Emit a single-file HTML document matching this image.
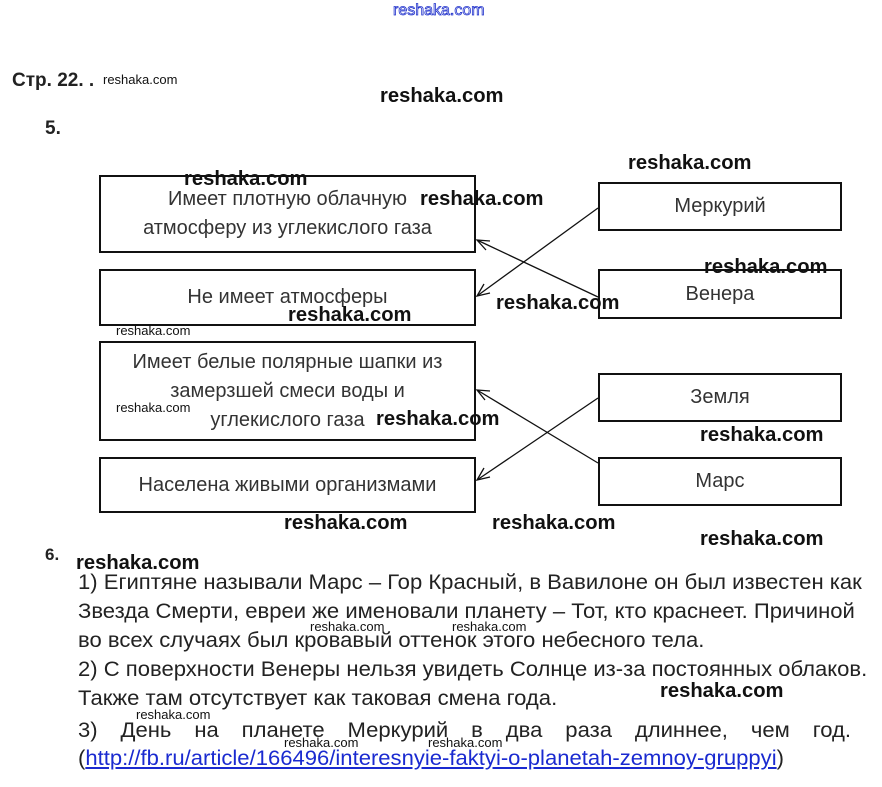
<!DOCTYPE html>
<html><head><meta charset="utf-8"><style>
body{margin:0;width:882px;height:787px;background:#fff;position:relative;overflow:hidden;font-family:"Liberation Sans",Arial,sans-serif;color:#222}
.a{position:absolute;white-space:nowrap}
.w{position:absolute;white-space:nowrap;font-weight:bold;font-size:20px;color:#111;line-height:20px;transform:scaleX(1.01);transform-origin:left}
.s{position:absolute;white-space:nowrap;font-size:13px;color:#111;line-height:14px}
.box{position:absolute;border:2px solid #111;box-sizing:border-box;display:flex;align-items:center;justify-content:center;text-align:center;font-size:20px;color:#333;line-height:29px}
.t{position:absolute;left:78px;white-space:nowrap;font-size:21px;color:#222;transform:scaleX(1.05);transform-origin:left;line-height:24px}
</style></head><body>
<div class="a" style="left:393px;top:2px;font-size:16px;color:#fff;-webkit-text-stroke:0.8px #2233cc">reshaka.com</div>
<div class="a" style="left:12px;top:70px;font-size:19px;font-weight:bold;color:#222">Стр. 22. .</div>
<div class="s" style="left:103px;top:73px">reshaka.com</div>
<div class="w" style="left:380px;top:86px">reshaka.com</div>
<div class="a" style="left:45px;top:118px;font-size:19px;font-weight:bold">5.</div>

<div class="box" style="left:99px;top:175px;width:377px;height:78px">Имеет плотную облачную<br>атмосферу из углекислого газа</div>
<div class="box" style="left:99px;top:269px;width:377px;height:57px">Не имеет атмосферы</div>
<div class="box" style="left:99px;top:341px;width:377px;height:100px">Имеет белые полярные шапки из<br>замерзшей смеси воды и<br>углекислого газа</div>
<div class="box" style="left:99px;top:457px;width:377px;height:56px">Населена живыми организмами</div>
<div class="box" style="left:598px;top:182px;width:244px;height:49px">Меркурий</div>
<div class="box" style="left:598px;top:269px;width:244px;height:50px">Венера</div>
<div class="box" style="left:598px;top:373px;width:244px;height:49px">Земля</div>
<div class="box" style="left:598px;top:457px;width:244px;height:49px">Марс</div>

<svg style="position:absolute;left:0;top:0" width="882" height="787">
<g stroke="#111" stroke-width="1.3" fill="none">
<line x1="598" y1="208" x2="477" y2="296"/><polyline points="484,284 477,296 490,293"/>
<line x1="598" y1="297" x2="477" y2="240"/><polyline points="490,241 477,240 486,250"/>
<line x1="598" y1="398" x2="477" y2="480"/><polyline points="484,468 477,480 490,477"/>
<line x1="598" y1="463" x2="477" y2="390"/><polyline points="490,391 477,390 485,400"/>
</g></svg>

<div class="w" style="left:628px;top:153px">reshaka.com</div>
<div class="w" style="left:184px;top:169px">reshaka.com</div>
<div class="w" style="left:420px;top:189px">reshaka.com</div>
<div class="w" style="left:704px;top:257px">reshaka.com</div>
<div class="w" style="left:496px;top:293px">reshaka.com</div>
<div class="w" style="left:288px;top:305px">reshaka.com</div>
<div class="s" style="left:116px;top:324px">reshaka.com</div>
<div class="s" style="left:116px;top:401px">reshaka.com</div>
<div class="w" style="left:376px;top:409px">reshaka.com</div>
<div class="w" style="left:700px;top:425px">reshaka.com</div>
<div class="w" style="left:284px;top:513px">reshaka.com</div>
<div class="w" style="left:492px;top:513px">reshaka.com</div>
<div class="w" style="left:700px;top:529px">reshaka.com</div>
<div class="a" style="left:45px;top:545px;font-size:17px;font-weight:bold">6.</div>
<div class="w" style="left:76px;top:553px">reshaka.com</div>

<div class="t" style="top:571px">1) Египтяне называли Марс – Гор Красный, в Вавилоне он был известен как</div>
<div class="t" style="top:600px">Звезда Смерти, евреи же именовали планету – Тот, кто краснеет. Причиной</div>
<div class="t" style="top:629px">во всех случаях был кровавый оттенок этого небесного тела.</div>
<div class="t" style="top:658px">2) С поверхности Венеры нельзя увидеть Солнце из-за постоянных облаков.</div>
<div class="t" style="top:687px">Также там отсутствует как таковая смена года.</div>
<div class="t" style="top:719px;word-spacing:16px">3) День на планете Меркурий в два раза длиннее, чем год.</div>
<div class="t" style="top:747px">(<span style="color:#1a2ad0;text-decoration:underline">http://fb.ru/article/166496/interesnyie-faktyi-o-planetah-zemnoy-gruppyi</span>)</div>

<div class="s" style="left:310px;top:620px">reshaka.com</div>
<div class="s" style="left:452px;top:620px">reshaka.com</div>
<div class="w" style="left:660px;top:681px">reshaka.com</div>
<div class="s" style="left:136px;top:708px">reshaka.com</div>
<div class="s" style="left:284px;top:736px">reshaka.com</div>
<div class="s" style="left:428px;top:736px">reshaka.com</div>
</body></html>
